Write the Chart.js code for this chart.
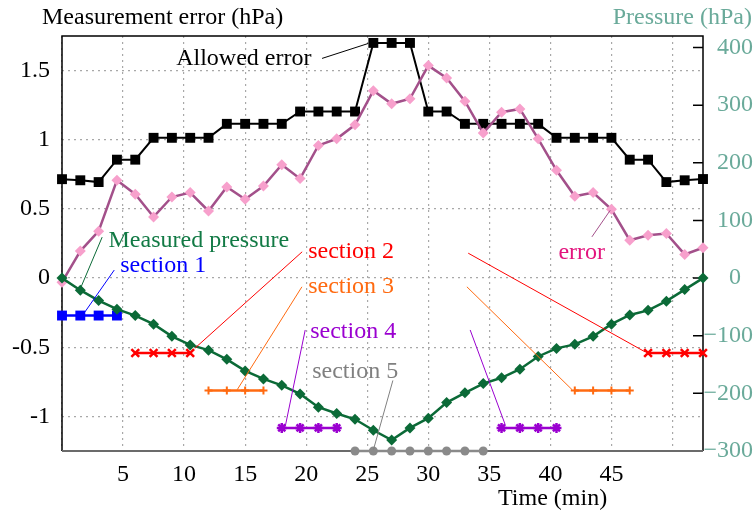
<!DOCTYPE html>
<html>
<head>
<meta charset="utf-8">
<script src="https://cdn.jsdelivr.net/npm/chart.js@4"></script>
<style>
  body { margin: 0; background: #fff; }
  #wrap { width: 754px; height: 512px; position: relative; }
</style>
</head>
<body>
<div id="wrap"><canvas id="Chart"></canvas></div>
<script>
// time axis (min)
const times = [0, 1.5, 3, 4.5, 6, 7.5, 9, 10.5, 12, 13.5, 15, 16.5, 18, 19.5, 21, 22.5, 24, 25.5,
  27, 28.5, 30, 31.5, 33, 34.5, 36, 37.5, 39, 40.5, 42, 43.5, 45, 46.5, 48, 49.5, 51, 52.5];

// left axis (hPa)
const allowedError = [0.715, 0.707, 0.694, 0.856, 0.856, 1.014, 1.014, 1.014, 1.014, 1.115, 1.115, 1.115,
  1.115, 1.204, 1.204, 1.204, 1.204, 1.70, 1.70, 1.70, 1.204, 1.204, 1.115, 1.115, 1.115, 1.115, 1.115,
  1.014, 1.014, 1.014, 1.014, 0.856, 0.856, 0.694, 0.707, 0.716];
const measurementError = [-0.03, 0.195, 0.339, 0.707, 0.606, 0.442, 0.586, 0.618, 0.485, 0.658, 0.57, 0.666,
  0.82, 0.719, 0.959, 1.007, 1.108, 1.355, 1.26, 1.296, 1.536, 1.447, 1.279, 1.048, 1.199, 1.223, 1.007,
  0.779, 0.591, 0.618, 0.497, 0.274, 0.31, 0.322, 0.171, 0.219];

// right axis (hPa)
const pressure = [0, -21, -39, -54, -65, -80, -101, -116, -125, -141, -161, -175, -186, -201, -224, -235,
  -245, -264, -281, -260, -243, -216, -199, -183, -173, -158, -136, -122, -115, -101, -80, -64, -56, -40,
  -20, 0];

// sections (right axis level + times)
const sectionLevels = [-65, -130, -195, -260, -300];
const section1Times = [0, 1.5, 3, 4.5];
const section2Times = [[6, 7.5, 9, 10.5], [48, 49.5, 51, 52.5]];
const section3Times = [[12, 13.5, 15, 16.5], [42, 43.5, 45, 46.5]];
const section4Times = [[18, 19.5, 21, 22.5], [36, 37.5, 39, 40.5]];
const section5Times = [24, 25.5, 27, 28.5, 30, 31.5, 33, 34.5];

const xGridTicks = [0, 5, 10, 15, 20, 25, 30, 35, 40, 45, 50];
const xTickLabels = [5, 10, 15, 20, 25, 30, 35, 40, 45];
const leftTicks = [-1, -0.5, 0, 0.5, 1, 1.5];
const rightTicks = [-300, -200, -100, 0, 100, 200, 300, 400];

const FONT = '"Liberation Serif", "Times New Roman", serif';
Chart.defaults.font.family = FONT;
Chart.defaults.font.size = 24;
Chart.defaults.color = '#000';

const GREEN = '#0b6a37';
const TEAL = '#6aaa9a';

const pts = (xs, ys) => xs.map((x, i) => ({ x: x, y: ys[i] }));
const flat = (xs, level) => xs.map((x) => ({ x: x, y: level }));

const sectionSet = (xs, level, color, style, radius, bw) => ({
  data: flat(xs, level),
  yAxisID: 'y2',
  borderColor: color,
  backgroundColor: color,
  borderWidth: 2.5,
  pointStyle: style,
  pointRadius: radius,
  pointBorderWidth: bw,
  clip: false,
});

// text labels with leader lines, in (minutes, left-axis) units
const notes = [
  { text: 'Allowed error', color: '#000', line: '#000', x: 9.35, y: 1.541, leaders: [[21.3, 1.588, 25.08, 1.696]] },
  { text: 'Measured pressure', color: '#127a45', line: GREEN, x: 3.81, y: 0.226, leaders: [[3.29, 0.296, 1.49, -0.079]] },
  { text: 'section 1', color: '#0000ff', line: '#0000ff', x: 4.77, y: 0.041, leaders: [[4.28, 0.058, 1.82, -0.252]] },
  { text: 'section 2', color: '#ff0000', line: '#ff0000', x: 20.16, y: 0.142,
    leaders: [[19.67, 0.19, 10.91, -0.505], [33.27, 0.18, 47.77, -0.534]] },
  { text: 'section 3', color: '#ff6a10', line: '#ff6a10', x: 20.16, y: -0.11,
    leaders: [[19.65, -0.063, 14.35, -0.807], [33.16, -0.063, 41.78, -0.807]] },
  { text: 'section 4', color: '#9a00d0', line: '#9a00d0', x: 20.33, y: -0.435,
    leaders: [[19.92, -0.375, 18.28, -1.074], [33.43, -0.375, 36.3, -1.06]] },
  { text: 'section 5', color: '#808080', line: '#808080', x: 20.49, y: -0.723, leaders: [[27.1, -0.74, 25.51, -1.24]] },
  { text: 'error', color: '#e3157e', line: '#a3508a', x: 40.66, y: 0.135, leaders: [[43.4, 0.298, 44.9, 0.49]] },
];

const deco = {
  id: 'deco',
  beforeDatasetsDraw(chart) {
    const { ctx, chartArea: a } = chart;
    const r = chart.scales.y2;
    ctx.save();
    ctx.strokeStyle = '#000';
    ctx.lineWidth = 1.5;
    ctx.beginPath();
    ctx.moveTo(a.left, a.bottom);
    ctx.lineTo(a.left, a.top);
    ctx.lineTo(a.right, a.top);
    ctx.lineTo(a.right, a.bottom);
    r.ticks.forEach((t) => {
      const y = r.getPixelForValue(t.value);
      ctx.moveTo(a.right - 10, y);
      ctx.lineTo(a.right, y);
    });
    ctx.stroke();
    ctx.strokeStyle = '#6b6b6b';
    ctx.lineWidth = 2;
    ctx.beginPath();
    ctx.moveTo(a.left, a.bottom);
    ctx.lineTo(a.right, a.bottom);
    ctx.stroke();
    ctx.restore();
  },
  afterDatasetsDraw(chart) {
    const { ctx } = chart;
    const xs = chart.scales.x;
    const ys = chart.scales.y;
    ctx.save();
    ctx.font = '24px ' + FONT;
    ctx.textAlign = 'left';
    ctx.textBaseline = 'alphabetic';
    notes.forEach((n) => {
      ctx.strokeStyle = n.line;
      ctx.lineWidth = 1;
      n.leaders.forEach((l) => {
        ctx.beginPath();
        ctx.moveTo(xs.getPixelForValue(l[0]), ys.getPixelForValue(l[1]));
        ctx.lineTo(xs.getPixelForValue(l[2]), ys.getPixelForValue(l[3]));
        ctx.stroke();
      });
      ctx.fillStyle = n.color;
      ctx.fillText(n.text, xs.getPixelForValue(n.x), ys.getPixelForValue(n.y));
    });
    ctx.restore();
  },
  afterDraw(chart) {
    const { ctx, chartArea: a } = chart;
    const r = chart.scales.y2;
    ctx.save();
    ctx.font = '24px ' + FONT;
    ctx.textBaseline = 'alphabetic';
    ctx.fillStyle = '#000';
    ctx.textAlign = 'left';
    ctx.fillText('Measurement error (hPa)', a.left - 20, a.top - 12);
    ctx.fillText('Time (min)', 498, a.bottom + 54);
    ctx.fillStyle = TEAL;
    ctx.textAlign = 'right';
    ctx.fillText('Pressure (hPa)', chart.width - 2, a.top - 12);
    // right axis tick labels: digits centred, minus sign hanging left
    ctx.textBaseline = 'middle';
    const cx = a.right + 32;
    r.ticks.forEach((t) => {
      const y = r.getPixelForValue(t.value);
      const s = String(Math.abs(t.value));
      ctx.textAlign = 'center';
      ctx.fillText(s, cx, y);
      if (t.value < 0) {
        ctx.textAlign = 'right';
        ctx.fillText('\u2212', cx - ctx.measureText(s).width / 2, y);
      }
    });
    ctx.restore();
  },
};

const ctx = document.getElementById('Chart');

new Chart(ctx, {
  type: 'line',
  data: {
    datasets: [
      {
        label: 'Measured pressure',
        data: pts(times, pressure),
        yAxisID: 'y2',
        borderColor: GREEN,
        backgroundColor: GREEN,
        borderWidth: 2.5,
        pointStyle: 'rectRot',
        pointRadius: 5.5,
        pointBorderWidth: 0,
        clip: false,
      },
      {
        label: 'error',
        data: pts(times, measurementError),
        yAxisID: 'y',
        borderColor: '#a3508a',
        backgroundColor: '#f7a0cc',
        pointBorderColor: '#f7a0cc',
        borderWidth: 2.5,
        pointStyle: 'rectRot',
        pointRadius: 5.5,
        pointBorderWidth: 0,
        clip: false,
      },
      {
        label: 'Allowed error',
        data: pts(times, allowedError),
        yAxisID: 'y',
        borderColor: '#000',
        backgroundColor: '#000',
        borderWidth: 2,
        pointStyle: 'rect',
        pointRadius: 7,
        pointBorderWidth: 0,
        clip: false,
      },
      sectionSet(section1Times, sectionLevels[0], '#0000ff', 'rect', 7, 0),
      sectionSet(section2Times[0], sectionLevels[1], '#ff0000', 'crossRot', 5.5, 2.5),
      sectionSet(section2Times[1], sectionLevels[1], '#ff0000', 'crossRot', 5.5, 2.5),
      sectionSet(section3Times[0], sectionLevels[2], '#ff6a10', 'cross', 4, 2),
      sectionSet(section3Times[1], sectionLevels[2], '#ff6a10', 'cross', 4, 2),
      sectionSet(section4Times[0], sectionLevels[3], '#9a00d0', 'star', 5, 2.5),
      sectionSet(section4Times[1], sectionLevels[3], '#9a00d0', 'star', 5, 2.5),
      sectionSet(section5Times, sectionLevels[4], '#8a8a8a', 'circle', 4.5, 0),
    ],
  },
  options: {
    responsive: true,
    maintainAspectRatio: false,
    animation: false,
    layout: { padding: { top: 36, left: 0, right: 0, bottom: 0 } },
    plugins: { legend: { display: false }, tooltip: { enabled: false } },
    scales: {
      x: {
        type: 'linear',
        min: 0,
        max: 52.5,
        afterBuildTicks: (s) => { s.ticks = xGridTicks.map((v) => ({ value: v })); },
        afterFit: (s) => { s.height = 61; },
        ticks: {
          autoSkip: false,
          maxRotation: 0,
          padding: 9,
          color: '#000',
          callback: (v) => (xTickLabels.includes(v) ? String(v) : ''),
        },
        grid: { color: '#a8a8a8', lineWidth: 1.2, drawTicks: false },
        border: { display: false, dash: [2, 4] },
      },
      y: {
        position: 'left',
        min: -1.25,
        max: 1.75,
        afterBuildTicks: (s) => { s.ticks = leftTicks.map((v) => ({ value: v })); },
        afterFit: (s) => { s.width = 62; },
        ticks: { padding: 12, color: '#000', callback: (v) => String(v) },
        grid: { color: '#a8a8a8', lineWidth: 1.2, drawTicks: false },
        border: { display: false, dash: [2, 4] },
      },
      y2: {
        position: 'right',
        min: -300,
        max: 420,
        afterBuildTicks: (s) => { s.ticks = rightTicks.map((v) => ({ value: v })); },
        afterFit: (s) => { s.width = 51; },
        ticks: { display: false },
        grid: { drawOnChartArea: false, drawTicks: false },
        border: { display: false },
      },
    },
  },
  plugins: [deco],
});
</script>
</body>
</html>
